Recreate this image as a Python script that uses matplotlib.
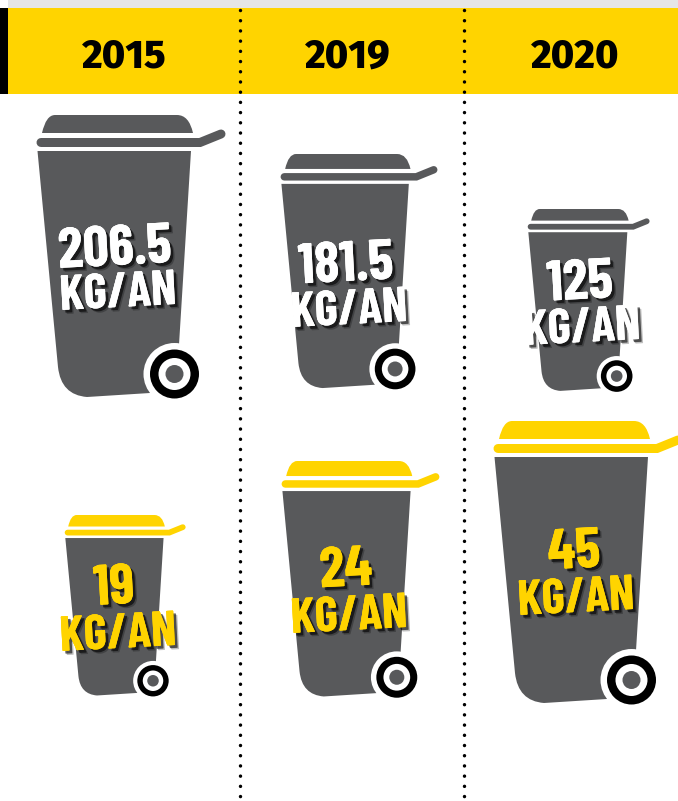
import matplotlib
matplotlib.use('Agg')
import matplotlib.pyplot as plt
import matplotlib.patheffects as pe
from matplotlib.path import Path
from matplotlib.patches import PathPatch, Circle, Rectangle

years = ['2015', '2019', '2020']
grey_kg = [206.5, 181.5, 125]     # upper row
yellow_kg = [19, 24, 45]          # lower row
unit = 'KG/AN'

# bin placement in pixels: left, top, scale
grey_bins = [(37, 115, 1.0), (281, 154, 0.83), (528, 209, 0.645)]
yellow_bins = [(65, 515, 0.64), (282, 461, 0.835), (494, 421, 1.0)]
# text centres in pixels: number x, y, unit x, y
grey_text = [(115, 250, 118, 294), (346, 266, 349, 311), (580, 284, 582, 329)]
yellow_text = [(114, 589, 118, 635), (346, 571, 349, 617), (574, 553, 576, 599)]

YELLOW = '#FFD400'
GREY = '#58595B'
FONT = ['Barlow Condensed', 'Roboto', 'DejaVu Sans']
HEAD_FONT = ['Fira Sans', 'Open Sans', 'DejaVu Sans']

fig = plt.figure(figsize=(6.78, 8.01), dpi=100)
ax = fig.add_axes([0, 0, 1, 1])
ax.set_xlim(0, 678)
ax.set_ylim(801, 0)
ax.axis('off')


def make_patch(verts, codes, x0, y0, s, color, z):
    pts = [(x0 + u * s, y0 + v * s) for u, v in verts]
    ax.add_patch(PathPatch(Path(pts, codes), fc=color, ec='none', zorder=z))


def draw_bin(x0, y0, s, lid_color):
    # lid
    lid = [(5, 18), (9, 0), (18, 0), (140, 0), (152, 0), (156, 18), (5, 18)]
    codes = [Path.MOVETO, Path.CURVE3, Path.CURVE3, Path.LINETO, Path.CURVE3, Path.CURVE3, Path.CLOSEPOLY]
    make_patch(lid, codes, x0, y0, s, lid_color, 3)
    # rim and handle
    ax.plot([x0 + 4 * s, x0 + 163 * s, x0 + 184 * s], [y0 + 27.5 * s, y0 + 27.5 * s, y0 + 19 * s],
            color=lid_color, lw=9 * s * 0.72, solid_capstyle='round', solid_joinstyle='miter', zorder=3)
    # body
    body = [(0.5, 36), (154, 36), (140, 262), (113, 278), (50, 282), (24, 280), (21, 252), (0.5, 36)]
    codes = [Path.MOVETO, Path.LINETO, Path.LINETO, Path.LINETO, Path.LINETO, Path.CURVE3, Path.CURVE3, Path.CLOSEPOLY]
    make_patch(body, codes, x0, y0, s, GREY, 3)
    # wheel
    wx, wy = x0 + 137.5 * s, y0 + 259 * s
    for r, c in [(31, 'white'), (24.5, 'black'), (16, 'white'), (9, GREY)]:
        ax.add_patch(Circle((wx, wy), r * s, fc=c, ec='none', zorder=4))


def draw_label(pos, value, color):
    shadow = [pe.withSimplePatchShadow(offset=(3, -3), shadow_rgbFace='black', alpha=0.25),
              pe.withSimplePatchShadow(offset=(2, -2), shadow_rgbFace='black', alpha=0.6),
              pe.Normal()]
    ax.text(pos[0], pos[1], '%g' % value, family=FONT, weight='bold', fontsize=41, color=color,
            ha='center', va='center', rotation=3, rotation_mode='anchor', path_effects=shadow, zorder=6)
    ax.text(pos[2], pos[3], unit, family=FONT, weight='bold', fontsize=35.5, color=color,
            ha='center', va='center', rotation=3, rotation_mode='anchor', path_effects=shadow, zorder=6)


# header band
ax.add_patch(Rectangle((8, 0), 670, 8, fc='#E6E6E6', ec='none', zorder=1))
ax.add_patch(Rectangle((8, 8), 670, 86, fc=YELLOW, ec='none', zorder=1))
ax.add_patch(Rectangle((0, 8), 8, 86, fc='black', ec='none', zorder=1))
for x, year in zip([124, 348, 575], years):
    ax.text(x, 68, year, family=HEAD_FONT, weight=800, fontsize=28.5,
            color='black', ha='center', va='baseline', zorder=2)

# dotted separators
for x in [240, 464]:
    ax.plot([x, x], [10, 797], color='black', lw=2.5, dash_capstyle='round',
            linestyle=(0, (0.01, 2.93)), zorder=2)

for b, t, v in zip(grey_bins, grey_text, grey_kg):
    draw_bin(b[0], b[1], b[2], GREY)
    draw_label(t, v, 'white')
for b, t, v in zip(yellow_bins, yellow_text, yellow_kg):
    draw_bin(b[0], b[1], b[2], YELLOW)
    draw_label(t, v, YELLOW)

fig.savefig('out.png', dpi=100)
